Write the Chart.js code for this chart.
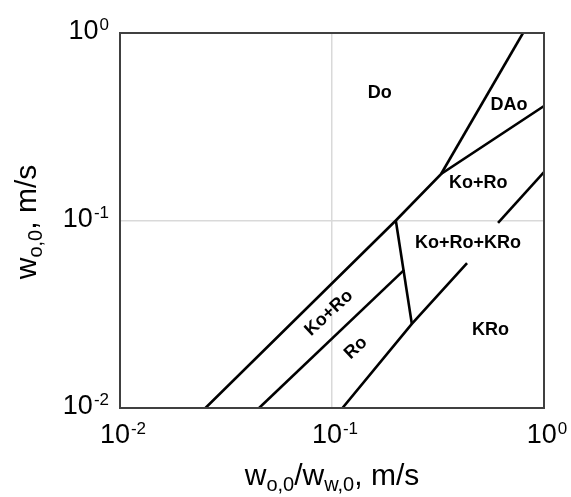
<!DOCTYPE html>
<html>
<head>
<meta charset="utf-8">
<script src="https://cdn.jsdelivr.net/npm/chart.js@4.4.0/dist/chart.umd.min.js"></script>
<style>
  html, body { margin: 0; padding: 0; background: #fff; }
  #regimeChart { display: block; }
</style>
</head>
<body>
<canvas id="regimeChart" width="571" height="497"></canvas>
<script>
// Flow regime boundaries, superficial velocities in m/s (log-log)
const boundaryDoLower = [[0.0253, 0.01], [0.2, 0.1], [0.327, 0.177], [1.0, 0.408]];
const boundaryDoDAo = [[0.327, 0.177], [0.796, 1.0]];
const boundaryRoUpper = [[0.0453, 0.01], [0.219, 0.0545]];
const boundaryKRoLeft = [[0.2, 0.1], [0.238, 0.0281]];
const boundaryKRoLow = [[0.112, 0.01], [0.238, 0.0281], [0.4335, 0.0593]];
const boundaryKRoHigh = [[0.607, 0.097], [1.0, 0.181]];

// Axis ticks
const tickValues = [0.01, 0.1, 1];
const tickExponents = ['-2', '-1', '0'];

// Regime names and where they sit (data coordinates)
const regionNames = ['Do', 'DAo', 'Ko+Ro', 'Ko+Ro+KRo', 'KRo', 'Ko+Ro', 'Ro'];
const regionX = [0.168, 0.684, 0.489, 0.4385, 0.559, 0.0968, 0.1297];
const regionY = [0.479, 0.413, 0.158, 0.0759, 0.0261, 0.0321, 0.0209];
const regionAngle = [0, 0, 0, 0, 0, -43, -43];

const FONT = '"Liberation Sans", Arial, sans-serif';

function toPoints(arr) {
    return arr.map(p => ({ x: p[0], y: p[1] }));
}

function lineSet(arr) {
    return {
        data: toPoints(arr),
        showLine: true,
        borderColor: '#000',
        borderWidth: 2.6,
        pointRadius: 0,
        fill: false,
        tension: 0
    };
}

// draw "10" with a raised exponent; anchor is 'center' or 'right'
function drawPower(ctx, base, exp, x, baseline, anchor) {
    ctx.font = '27px ' + FONT;
    const wb = ctx.measureText(base).width;
    ctx.font = '17px ' + FONT;
    const we = ctx.measureText(exp).width;
    const total = wb + we + 1;
    let left = anchor === 'right' ? x - total : x - total / 2;
    ctx.textAlign = 'left';
    ctx.textBaseline = 'alphabetic';
    ctx.font = '27px ' + FONT;
    ctx.fillText(base, left, baseline);
    ctx.font = '17px ' + FONT;
    ctx.fillText(exp, left + wb + 1, baseline - 9);
}

// text made of normal and subscript pieces, centred on x
function drawSubbed(ctx, parts, x, baseline) {
    const widths = parts.map(p => {
        ctx.font = (p.sub ? '20px ' : '30px ') + FONT;
        return ctx.measureText(p.t).width;
    });
    let cur = x - widths.reduce((a, b) => a + b, 0) / 2;
    ctx.textAlign = 'left';
    ctx.textBaseline = 'alphabetic';
    parts.forEach((p, i) => {
        ctx.font = (p.sub ? '20px ' : '30px ') + FONT;
        ctx.fillText(p.t, cur, baseline + (p.sub ? 6 : 0));
        cur += widths[i];
    });
}

const decorations = {
    id: 'decorations',
    afterDatasetsDraw(chart) {
        const ctx = chart.ctx;
        const area = chart.chartArea;
        const xs = chart.scales.x;
        const ys = chart.scales.y;
        ctx.save();

        // frame
        ctx.strokeStyle = '#404040';
        ctx.lineWidth = 2;
        ctx.strokeRect(area.left, area.top, area.right - area.left, area.bottom - area.top);

        // region labels
        ctx.fillStyle = '#000';
        ctx.font = 'bold 18px ' + FONT;
        ctx.textAlign = 'center';
        ctx.textBaseline = 'middle';
        regionNames.forEach((name, i) => {
            const px = xs.getPixelForValue(regionX[i]);
            const py = ys.getPixelForValue(regionY[i]);
            ctx.save();
            ctx.translate(px, py);
            ctx.rotate(regionAngle[i] * Math.PI / 180);
            ctx.fillText(name, 0, 0);
            ctx.restore();
        });

        // tick labels
        tickValues.forEach((v, i) => {
            drawPower(ctx, '10', tickExponents[i], xs.getPixelForValue(v) + 3, area.bottom + 35, 'center');
            drawPower(ctx, '10', tickExponents[i], area.left - 11, ys.getPixelForValue(v) + 6, 'right');
        });

        // axis titles
        drawSubbed(ctx, [
            { t: 'w' }, { t: 'o,0', sub: true }, { t: '/w' }, { t: 'w,0', sub: true }, { t: ', m/s' }
        ], 332, 485);

        ctx.save();
        ctx.translate(36, 222);
        ctx.rotate(-Math.PI / 2);
        drawSubbed(ctx, [{ t: 'w' }, { t: 'o,0', sub: true }, { t: ', m/s' }], 0, 0);
        ctx.restore();

        ctx.restore();
    }
};

const logAxis = {
    type: 'logarithmic',
    min: 0.01,
    max: 1,
    afterBuildTicks(scale) {
        scale.ticks = tickValues.map(v => ({ value: v }));
    },
    ticks: { display: false },
    border: { display: false },
    grid: {
        drawTicks: false,
        lineWidth: 1.5,
        color: ctx => (ctx.tick && ctx.tick.value === 0.1) ? '#d9d9d9' : 'rgba(0,0,0,0)'
    }
};

new Chart(document.getElementById('regimeChart').getContext('2d'), {
    type: 'scatter',
    data: {
        datasets: [
            lineSet(boundaryDoLower),
            lineSet(boundaryDoDAo),
            lineSet(boundaryRoUpper),
            lineSet(boundaryKRoLeft),
            lineSet(boundaryKRoLow),
            lineSet(boundaryKRoHigh)
        ]
    },
    options: {
        responsive: false,
        animation: false,
        layout: { padding: { left: 120, top: 33, right: 27, bottom: 89 } },
        plugins: {
            legend: { display: false },
            tooltip: { enabled: false }
        },
        scales: {
            x: Object.assign({}, logAxis),
            y: Object.assign({}, logAxis)
        }
    },
    plugins: [decorations]
});
</script>
</body>
</html>
